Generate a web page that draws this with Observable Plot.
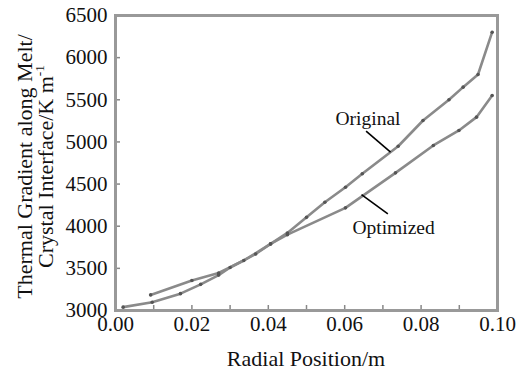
<!DOCTYPE html>
<html><head><meta charset="utf-8">
<script src="https://cdn.jsdelivr.net/npm/d3@7"></script>
<script src="https://cdn.jsdelivr.net/npm/@observablehq/plot@0.6"></script>
<style>html,body{margin:0;padding:0;background:#fff} svg{display:block}</style>
</head><body><div id="chart"></div>
<script>
// Data
const originalX = [0.002, 0.0096, 0.017, 0.0223, 0.027, 0.030, 0.0367, 0.0406, 0.045, 0.050, 0.0548, 0.0602, 0.0646, 0.074, 0.0805, 0.0873, 0.091, 0.0949, 0.0986];
const originalY = [3040, 3098, 3200, 3310, 3420, 3510, 3670, 3790, 3920, 4105, 4285, 4463, 4622, 4949, 5254, 5500, 5650, 5800, 6302];
const optimizedX = [0.0092, 0.020, 0.027, 0.0336, 0.0406, 0.045, 0.0602, 0.0733, 0.0832, 0.0899, 0.0945, 0.0986];
const optimizedY = [3185, 3356, 3445, 3593, 3790, 3900, 4218, 4633, 4958, 5136, 5294, 5551];
const xLabelTicks = [0, 0.02, 0.04, 0.06, 0.08, 0.10];
const xMinorTicks = [0, 0.01, 0.02, 0.03, 0.04, 0.05, 0.06, 0.07, 0.08, 0.09, 0.10];
const yTicks = [3000, 3500, 4000, 4500, 5000, 5500, 6000, 6500];
const annotationText = ["Original", "Optimized"];
const annotationX = [0.0661, 0.0728];
const annotationY = [5278, 3985];
const leaderX1 = [0.0656, 0.0644];
const leaderY1 = [5127, 4376];
const leaderX2 = [0.0720, 0.0713];
const leaderY2 = [4878, 4147];
const xLabel = "Radial Position/m";
const yLabel1 = "Thermal Gradient along Melt/";
const yLabel2 = "Crystal Interface/K m";
const yLabelSup = "-1";

const original = originalX.map((x, i) => ({x, y: originalY[i]}));
const optimized = optimizedX.map((x, i) => ({x, y: optimizedY[i]}));
const annotations = annotationText.map((t, i) => ({t, x: annotationX[i], y: annotationY[i]}));
const leaders = leaderX1.map((x1, i) => ({x1, y1: leaderY1[i], x2: leaderX2[i], y2: leaderY2[i]}));

const font = "Liberation Serif";
const BASE = 18; // rendered font-size; enlarged with a scale transform
const W = 526, H = 376, ML = 115, MR = 29, MT = 15, MB = 66;

const chart = Plot.plot({
  width: W, height: H,
  marginLeft: ML, marginRight: MR, marginTop: MT, marginBottom: MB,
  style: {background: "#fff", color: "#000", overflow: "visible"},
  x: {domain: [0, 0.1]},
  y: {domain: [3000, 6500]},
  marks: [
    Plot.axisX({ticks: xMinorTicks, tickSize: -5, tickFormat: () => "", stroke: "#888", strokeWidth: 1.5, label: null}),
    Plot.axisX({ticks: xLabelTicks, tickSize: 0, tickPadding: 6, tickFormat: d3.format(".2f"), fontSize: BASE, fill: "#111", label: null, fontFamily: font}),
    Plot.axisY({ticks: yTicks, tickSize: -5, tickFormat: () => "", stroke: "#888", strokeWidth: 1.5, label: null}),
    Plot.axisY({ticks: yTicks, tickSize: 0, tickPadding: 8, tickFormat: d3.format("d"), fontSize: BASE, fill: "#111", label: null, fontFamily: font}),
    Plot.line(original, {x: "x", y: "y", stroke: "#8a8a8a", strokeWidth: 2.6}),
    Plot.line(optimized, {x: "x", y: "y", stroke: "#8a8a8a", strokeWidth: 2.6}),
    Plot.dot(original, {x: "x", y: "y", r: 1.8, fill: "#555"}),
    Plot.dot(optimized, {x: "x", y: "y", r: 1.8, fill: "#555"}),
    Plot.link(leaders, {x1: "x1", y1: "y1", x2: "x2", y2: "y2", stroke: "#000", strokeWidth: 1.6}),
    Plot.text(annotations, {x: "x", y: "y", text: "t", fontSize: BASE, fill: "#111", fontFamily: font}),
    Plot.frame({stroke: "#999", strokeWidth: 3})
  ]
});
document.getElementById("chart").appendChild(chart);

const svg = d3.select(chart);
function scaleText(el, k) {
  const num = v => (v != null && /^-?\d*\.?\d+$/.test(v.trim())) ? +v : 0;
  const x = num(el.getAttribute("x")), y = num(el.getAttribute("y"));
  const t = el.getAttribute("transform") || "";
  el.setAttribute("transform", `${t} translate(${x},${y}) scale(${k}) translate(${-x},${-y})`);
}
svg.selectAll('g[aria-label="x-axis tick label"] text, g[aria-label="y-axis tick label"] text')
  .each(function() { scaleText(this, 21 / BASE); });
svg.selectAll('g[aria-label="text"] text')
  .each(function() { scaleText(this, 19.5 / BASE); });

const kL = 22 / BASE;
svg.append("text")
  .attr("transform", `translate(${ML + (W - ML - MR) / 2},${H - 10}) scale(${kL})`)
  .attr("text-anchor", "middle").attr("font-family", font).attr("font-size", BASE).attr("fill", "#111")
  .text(xLabel);
svg.append("text")
  .attr("transform", `translate(32,${MT + (H - MT - MB) / 2 + 4}) rotate(-90) scale(${kL})`)
  .attr("text-anchor", "middle").attr("font-family", font).attr("font-size", BASE).attr("fill", "#111")
  .text(yLabel1);
const g2 = svg.append("text")
  .attr("transform", `translate(53,${MT + (H - MT - MB) / 2 + 4}) rotate(-90) scale(${kL})`)
  .attr("text-anchor", "middle").attr("font-family", font).attr("font-size", BASE).attr("fill", "#111");
g2.append("tspan").text(yLabel2);
g2.append("tspan").attr("font-size", 11).attr("dy", "-0.7em").text(yLabelSup);
</script>
</body></html>
